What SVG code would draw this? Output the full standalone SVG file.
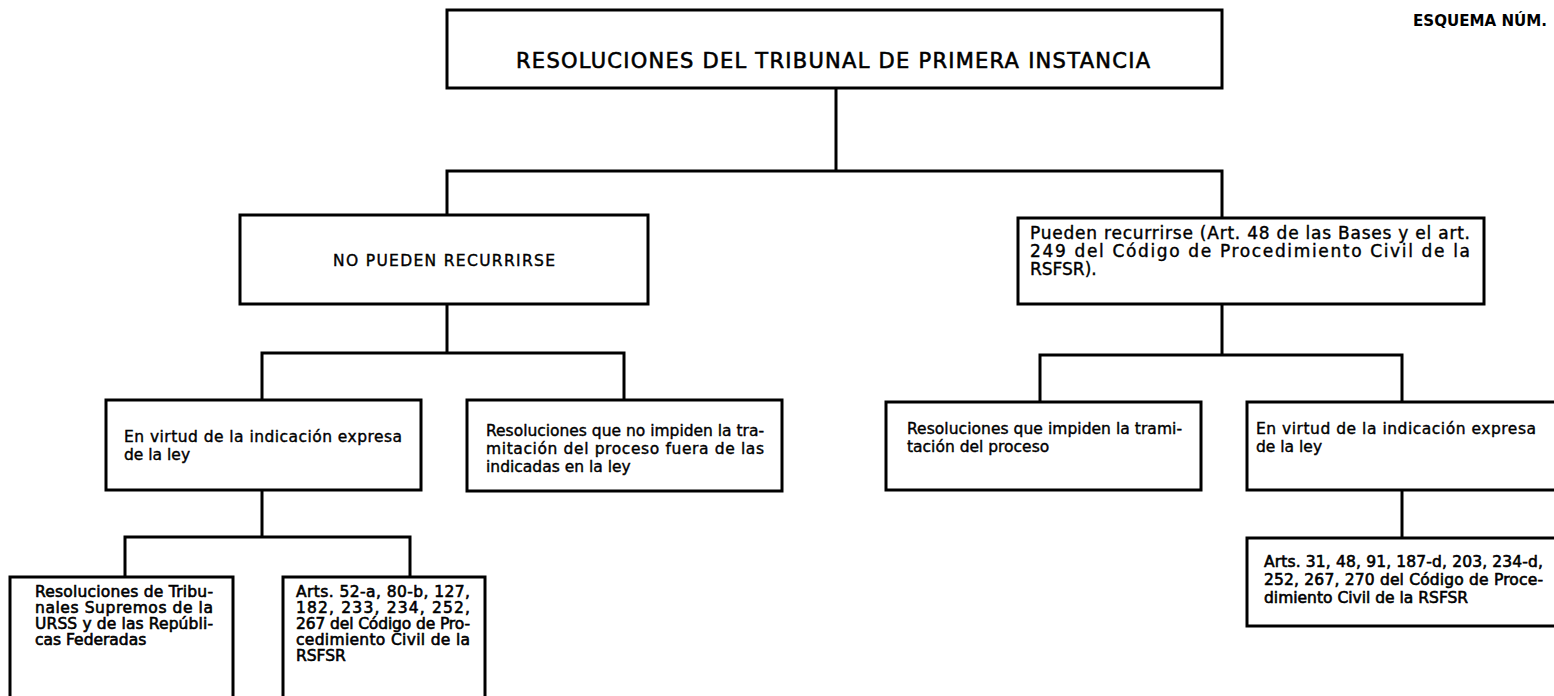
<svg xmlns="http://www.w3.org/2000/svg" width="1554" height="696" viewBox="0 0 1554 696">
<style>
.box{fill:#fff;stroke:#000;stroke-width:3}
.conn{stroke:#000;stroke-width:3;fill:none;stroke-linecap:square}
.t{font-family:"DejaVu Sans","Liberation Sans",sans-serif;font-size:15.5px;fill:#000;stroke:#000;stroke-width:0.4}
.tl{font-size:17px}
.tb{stroke-width:0.6}
.title{font-family:"DejaVu Sans","Liberation Sans",sans-serif;font-size:21px;fill:#000;stroke:#000;stroke-width:0.6}
.hdr{font-family:"DejaVu Sans","Liberation Sans",sans-serif;font-size:15px;font-weight:bold;fill:#000}
</style>
<rect width="1554" height="696" fill="#fff"/>
<text class="hdr" x="1413" y="26" textLength="134" lengthAdjust="spacingAndGlyphs">ESQUEMA NÚM.</text>
<g id="connectors">
<path class="conn" d="M836,88 V171 M447,171 H1222 M447,171 V215 M1222,171 V218"/>
<path class="conn" d="M447,304 V353 M262,353 H624 M262,353 V400 M624,353 V400"/>
<path class="conn" d="M1222,304 V355 M1040,355 H1402 M1040,355 V402 M1402,355 V402"/>
<path class="conn" d="M262,490 V537 M125,537 H410 M125,537 V577 M410,537 V577"/>
<path class="conn" d="M1402,490 V538"/>
</g>
<g id="n-root">
<rect class="box" x="447" y="10" width="775" height="78"/>
<text class="title" x="516" y="68" textLength="634" lengthAdjust="spacing">RESOLUCIONES DEL TRIBUNAL DE PRIMERA INSTANCIA</text>
</g>
<g id="n-no">
<rect class="box" x="240" y="215" width="408" height="89"/>
<text class="t" x="444" y="266" text-anchor="middle" font-size="16.5" textLength="222" lengthAdjust="spacing">NO PUEDEN RECURRIRSE</text>
</g>
<g id="n-si">
<rect class="box" x="1018" y="218" width="466" height="86"/>
<text class="t tl" x="1030" y="239" textLength="440" lengthAdjust="spacing">Pueden recurrirse (Art. 48 de las Bases y el art.</text>
<text class="t tl" x="1030" y="257" textLength="440" lengthAdjust="spacing">249 del Código de Procedimiento Civil de la</text>
<text class="t tl" x="1030" y="275">RSFSR).</text>
</g>
<g id="n-virtud-l">
<rect class="box" x="106" y="400" width="315" height="90"/>
<text class="t" x="124" y="442" textLength="278" lengthAdjust="spacing">En virtud de la indicación expresa</text>
<text class="t" x="124" y="460">de la ley</text>
</g>
<g id="n-noimpiden">
<rect class="box" x="467" y="400" width="315" height="91"/>
<text class="t" x="486" y="436" textLength="278" lengthAdjust="spacing">Resoluciones que no impiden la tra-</text>
<text class="t" x="486" y="454" textLength="278" lengthAdjust="spacing">mitación del proceso fuera de las</text>
<text class="t" x="486" y="472">indicadas en la ley</text>
</g>
<g id="n-impiden">
<rect class="box" x="886" y="402" width="315" height="88"/>
<text class="t" x="907" y="434" textLength="275" lengthAdjust="spacing">Resoluciones que impiden la trami-</text>
<text class="t" x="907" y="452">tación del proceso</text>
</g>
<g id="n-virtud-r">
<rect class="box" x="1247" y="402" width="320" height="88"/>
<text class="t" x="1256" y="434" textLength="280" lengthAdjust="spacing">En virtud de la indicación expresa</text>
<text class="t" x="1256" y="452">de la ley</text>
</g>
<g id="n-tribunales">
<rect class="box" x="10" y="577" width="223" height="140"/>
<text class="t tb" x="35" y="597" textLength="178" lengthAdjust="spacing">Resoluciones de Tribu-</text>
<text class="t tb" x="35" y="613" textLength="178" lengthAdjust="spacing">nales Supremos de la</text>
<text class="t tb" x="35" y="629" textLength="178" lengthAdjust="spacing">URSS y de las Repúbli-</text>
<text class="t tb" x="35" y="645">cas Federadas</text>
</g>
<g id="n-arts-l">
<rect class="box" x="283" y="577" width="202" height="140"/>
<text class="t tb" x="296" y="597" textLength="174" lengthAdjust="spacing">Arts. 52-a, 80-b, 127,</text>
<text class="t tb" x="296" y="613" textLength="174" lengthAdjust="spacing">182, 233, 234, 252,</text>
<text class="t tb" x="296" y="629" textLength="174" lengthAdjust="spacing">267 del Código de Pro-</text>
<text class="t tb" x="296" y="645" textLength="174" lengthAdjust="spacing">cedimiento Civil de la</text>
<text class="t tb" x="296" y="661">RSFSR</text>
</g>
<g id="n-arts-r">
<rect class="box" x="1247" y="538" width="320" height="88"/>
<text class="t tb" x="1264" y="567" textLength="279" lengthAdjust="spacing">Arts. 31, 48, 91, 187-d, 203, 234-d,</text>
<text class="t tb" x="1264" y="585" textLength="279" lengthAdjust="spacing">252, 267, 270 del Código de Proce-</text>
<text class="t tb" x="1264" y="603">dimiento Civil de la RSFSR</text>
</g>
</svg>
